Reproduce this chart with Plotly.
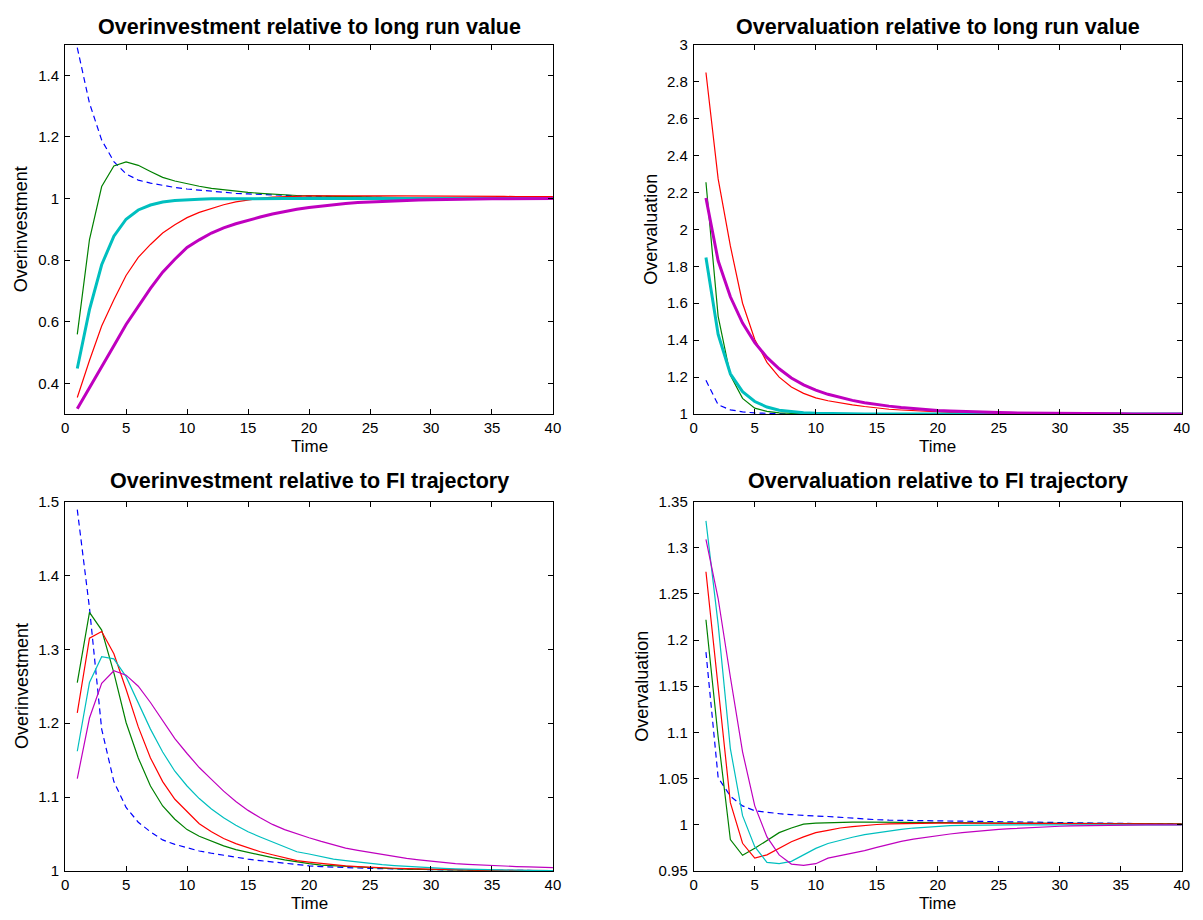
import plotly.graph_objects as go

W, H = 1203, 920
time = list(range(1, 41))

# ---------------- Top-left: Overinvestment relative to long run value
tl_blue = [1.49, 1.31, 1.19, 1.12, 1.08, 1.06, 1.05, 1.042, 1.036, 1.031,
           1.027, 1.023, 1.020, 1.017, 1.015, 1.013, 1.011, 1.010, 1.009, 1.008,
           1.007, 1.006, 1.005, 1.0045, 1.004, 1.0035, 1.003, 1.0027, 1.0024, 1.0021,
           1.0019, 1.0017, 1.0015, 1.0013, 1.0012, 1.001, 1.0009, 1.0008, 1.0007, 1.0006]
tl_green = [0.559, 0.867, 1.039, 1.106, 1.119, 1.108, 1.088, 1.069, 1.057, 1.048,
            1.040, 1.033, 1.028, 1.024, 1.020, 1.017, 1.014, 1.012, 1.010, 1.009,
            1.008, 1.007, 1.006, 1.005, 1.0045, 1.004, 1.0035, 1.003, 1.0027, 1.0024,
            1.002, 1.0018, 1.0016, 1.0014, 1.0012, 1.001, 1.0009, 1.0008, 1.0007, 1.0006]
tl_red = [0.354, 0.474, 0.586, 0.671, 0.750, 0.809, 0.851, 0.888, 0.915, 0.938,
          0.955, 0.968, 0.980, 0.989, 0.996, 1.001, 1.005, 1.007, 1.0085, 1.009,
          1.009, 1.0095, 1.0095, 1.0095, 1.0095, 1.009, 1.009, 1.009, 1.0085, 1.0085,
          1.008, 1.008, 1.0075, 1.0075, 1.007, 1.007, 1.0065, 1.0065, 1.006, 1.006]
tl_cyan = [0.448, 0.639, 0.785, 0.878, 0.933, 0.963, 0.979, 0.989, 0.994, 0.997,
           0.998, 0.999, 0.9995, 1.0, 1.0, 1.0, 1.0, 1.0, 1.0, 1.0,
           1.0, 1.0, 1.0, 1.0, 1.0, 1.0, 1.0, 1.0, 1.0, 1.0,
           1.0, 1.0, 1.0, 1.0, 1.0, 1.0, 1.0, 1.0, 1.0, 1.0]
tl_magenta = [0.317, 0.384, 0.453, 0.522, 0.591, 0.650, 0.708, 0.761, 0.803, 0.841,
              0.866, 0.888, 0.905, 0.918, 0.930, 0.940, 0.950, 0.958, 0.965, 0.971,
              0.976, 0.980, 0.984, 0.987, 0.989, 0.991, 0.993, 0.994, 0.995, 0.996,
              0.997, 0.9975, 0.998, 0.9985, 0.999, 0.9992, 0.9994, 0.9996, 0.9998, 1.0]

# ---------------- Top-right: Overvaluation relative to long run value
tr_blue = [1.183, 1.05, 1.023, 1.012, 1.006, 1.003, 1.0015, 1.001, 1.0, 1.0,
           1.0, 1.0, 1.0, 1.0, 1.0, 1.0, 1.0, 1.0, 1.0, 1.0,
           1.0, 1.0, 1.0, 1.0, 1.0, 1.0, 1.0, 1.0, 1.0, 1.0,
           1.0, 1.0, 1.0, 1.0, 1.0, 1.0, 1.0, 1.0, 1.0, 1.0]
tr_green = [2.255, 1.529, 1.210, 1.085, 1.032, 1.015, 1.006, 1.003, 1.001, 1.0,
            1.0, 1.0, 1.0, 1.0, 1.0, 1.0, 1.0, 1.0, 1.0, 1.0,
            1.0, 1.0, 1.0, 1.0, 1.0, 1.0, 1.0, 1.0, 1.0, 1.0,
            1.0, 1.0, 1.0, 1.0, 1.0, 1.0, 1.0, 1.0, 1.0, 1.0]
tr_red = [2.849, 2.273, 1.910, 1.600, 1.404, 1.280, 1.200, 1.147, 1.112, 1.088,
          1.072, 1.060, 1.050, 1.041, 1.033, 1.026, 1.022, 1.018, 1.014, 1.011,
          1.009, 1.007, 1.006, 1.005, 1.004, 1.0025, 1.002, 1.0016, 1.0013, 1.001,
          1.0008, 1.0006, 1.0005, 1.0004, 1.0003, 1.0002, 1.0002, 1.0001, 1.0001, 1.0]
tr_cyan = [1.848, 1.431, 1.218, 1.121, 1.068, 1.038, 1.021, 1.012, 1.007, 1.004,
           1.002, 1.001, 1.0, 1.0, 1.0, 1.0, 1.0, 1.0, 1.0, 1.0,
           1.0, 1.0, 1.0, 1.0, 1.0, 1.0, 1.0, 1.0, 1.0, 1.0,
           1.0, 1.0, 1.0, 1.0, 1.0, 1.0, 1.0, 1.0, 1.0, 1.0]
tr_magenta = [2.170, 1.830, 1.635, 1.493, 1.387, 1.307, 1.245, 1.195, 1.158, 1.130,
              1.107, 1.089, 1.074, 1.061, 1.051, 1.043, 1.036, 1.030, 1.025, 1.020,
              1.017, 1.014, 1.012, 1.010, 1.008, 1.0065, 1.0055, 1.0045, 1.0038, 1.003,
              1.0025, 1.002, 1.0017, 1.0014, 1.0012, 1.001, 1.0008, 1.0007, 1.0006, 1.0005]

# ---------------- Bottom-left: Overinvestment relative to FI trajectory
bl_blue = [1.489, 1.356, 1.192, 1.121, 1.086, 1.066, 1.053, 1.042, 1.036, 1.031,
           1.027, 1.024, 1.021, 1.019, 1.016, 1.014, 1.012, 1.010, 1.008, 1.007,
           1.006, 1.005, 1.0045, 1.004, 1.0035, 1.003, 1.0027, 1.0024, 1.0021, 1.0018,
           1.0016, 1.0014, 1.0012, 1.001, 1.0009, 1.0008, 1.0007, 1.0006, 1.0005, 1.0004]
bl_green = [1.255, 1.350, 1.326, 1.268, 1.201, 1.153, 1.115, 1.088, 1.070, 1.056,
            1.047, 1.040, 1.034, 1.029, 1.025, 1.021, 1.018, 1.015, 1.012, 1.010,
            1.008, 1.007, 1.006, 1.005, 1.004, 1.0035, 1.003, 1.0025, 1.002, 1.0017,
            1.0014, 1.0012, 1.001, 1.0008, 1.0007, 1.0006, 1.0005, 1.0004, 1.0003, 1.0002]
bl_red = [1.214, 1.315, 1.324, 1.294, 1.246, 1.195, 1.153, 1.121, 1.097, 1.080,
          1.064, 1.053, 1.044, 1.037, 1.031, 1.026, 1.022, 1.018, 1.014, 1.012,
          1.010, 1.0085, 1.007, 1.006, 1.005, 1.0043, 1.0037, 1.0032, 1.0027, 1.0023,
          1.002, 1.0017, 1.0014, 1.0012, 1.001, 1.0009, 1.0008, 1.0007, 1.0006, 1.0005]
bl_cyan = [1.162, 1.255, 1.290, 1.287, 1.263, 1.228, 1.192, 1.161, 1.135, 1.115,
           1.098, 1.084, 1.072, 1.062, 1.053, 1.046, 1.039, 1.032, 1.026, 1.023,
           1.019, 1.016, 1.014, 1.012, 1.010, 1.0085, 1.0072, 1.006, 1.005, 1.004,
           1.0034, 1.0028, 1.0023, 1.0019, 1.0016, 1.0013, 1.0011, 1.0009, 1.0007, 1.0006]
bl_magenta = [1.125, 1.207, 1.254, 1.271, 1.265, 1.250, 1.228, 1.203, 1.179, 1.159,
              1.140, 1.124, 1.108, 1.094, 1.082, 1.072, 1.063, 1.056, 1.050, 1.045,
              1.040, 1.035, 1.031, 1.028, 1.025, 1.022, 1.019, 1.017, 1.015, 1.013,
              1.012, 1.010, 1.009, 1.008, 1.007, 1.0065, 1.006, 1.0055, 1.005, 1.0045]

# ---------------- Bottom-right: Overvaluation relative to FI trajectory
br_blue = [1.187, 1.051, 1.031, 1.0205, 1.0152, 1.0135, 1.012, 1.011, 1.010, 1.0095,
           1.009, 1.008, 1.007, 1.006, 1.0055, 1.005, 1.0048, 1.0045, 1.0042, 1.004,
           1.0037, 1.0034, 1.0032, 1.003, 1.0028, 1.0026, 1.0024, 1.0022, 1.002, 1.0019,
           1.0018, 1.0017, 1.0016, 1.0015, 1.0014, 1.0013, 1.0012, 1.0011, 1.001, 1.001]
br_green = [1.222, 1.095, 0.984, 0.967, 0.9745, 0.983, 0.9915, 0.9965, 1.0007, 1.0018,
            1.0024, 1.0028, 1.0028, 1.0028, 1.0027, 1.0026, 1.0025, 1.0024, 1.0023, 1.0022,
            1.0021, 1.002, 1.002, 1.0019, 1.0018, 1.0017, 1.0016, 1.0016, 1.0015, 1.0015,
            1.0014, 1.0014, 1.0013, 1.0013, 1.0012, 1.0012, 1.0011, 1.0011, 1.001, 1.001]
br_red = [1.274, 1.146, 1.024, 0.980, 0.964, 0.9674, 0.9745, 0.9816, 0.9869, 0.9915,
          0.994, 0.9965, 0.998, 0.9993, 1.0003, 1.0009, 1.0013, 1.0016, 1.0017, 1.0017,
          1.0017, 1.0016, 1.0016, 1.0015, 1.0015, 1.0014, 1.0014, 1.0013, 1.0013, 1.0012,
          1.0012, 1.0011, 1.0011, 1.001, 1.001, 1.0009, 1.0009, 1.0008, 1.0008, 1.0008]
br_cyan = [1.329, 1.217, 1.0825, 1.0099, 0.9763, 0.9593, 0.9579, 0.9604, 0.9674, 0.9745,
           0.9798, 0.9833, 0.9865, 0.9894, 0.9915, 0.993, 0.995, 0.9965, 0.9975, 0.9986,
           0.999, 0.9993, 0.9996, 0.9998, 1.0, 1.0, 1.0, 1.0, 1.0, 1.0,
           1.0, 1.0, 1.0, 1.0, 1.0, 1.0, 1.0, 1.0, 1.0, 1.0]
br_magenta = [1.309, 1.245, 1.160, 1.079, 1.0205, 0.9869, 0.9674, 0.9575, 0.9561, 0.9579,
              0.9639, 0.9665, 0.969, 0.972, 0.9755, 0.979, 0.982, 0.9845, 0.9865, 0.9885,
              0.990, 0.9915, 0.9928, 0.994, 0.995, 0.9958, 0.9966, 0.9973, 0.9979, 0.9984,
              0.9988, 0.9991, 0.9994, 0.9996, 0.9998, 1.0, 1.0, 1.0, 1.0, 1.0]

titles = ["Overinvestment relative to long run value",
          "Overvaluation relative to long run value",
          "Overinvestment relative to FI trajectory",
          "Overvaluation relative to FI trajectory"]
ylabels = ["Overinvestment", "Overvaluation", "Overinvestment", "Overvaluation"]
xlabel = "Time"

x_ticks = [0, 5, 10, 15, 20, 25, 30, 35, 40]
tl_yticks = [0.4, 0.6, 0.8, 1.0, 1.2, 1.4]
tl_ytext = ["0.4", "0.6", "0.8", "1", "1.2", "1.4"]
tr_yticks = [1.0, 1.2, 1.4, 1.6, 1.8, 2.0, 2.2, 2.4, 2.6, 2.8, 3.0]
tr_ytext = ["1", "1.2", "1.4", "1.6", "1.8", "2", "2.2", "2.4", "2.6", "2.8", "3"]
bl_yticks = [1.0, 1.1, 1.2, 1.3, 1.4, 1.5]
bl_ytext = ["1", "1.1", "1.2", "1.3", "1.4", "1.5"]
br_yticks = [0.95, 1.0, 1.05, 1.1, 1.15, 1.2, 1.25, 1.3, 1.35]
br_ytext = ["0.95", "1", "1.05", "1.1", "1.15", "1.2", "1.25", "1.3", "1.35"]

COL = {"b": "#0000FF", "g": "#008000", "r": "#FF0000", "c": "#00BFBF", "m": "#BF00BF"}


def px_x(p):
    return p / W


def px_y(p):
    return 1 - p / H


xdom_l = [px_x(61.7), px_x(554.5)]
xdom_r = [px_x(696.7), px_x(1189.7)]
ydom_t = [px_y(412.7), px_y(36.3)]
ydom_b = [px_y(878.2), px_y(501.8)]

panels = [
    dict(xa="x", ya="y", xd=xdom_l, yd=ydom_t, rng=[0.3, 1.5], tv=tl_yticks, tt=tl_ytext,
         data=[tl_blue, tl_green, tl_red, tl_cyan, tl_magenta], thick=True,
         title_y=18.5, time_y=446, ylab_x=18),
    dict(xa="x2", ya="y2", xd=xdom_r, yd=ydom_t, rng=[1.0, 3.0], tv=tr_yticks, tt=tr_ytext,
         data=[tr_blue, tr_green, tr_red, tr_cyan, tr_magenta], thick=True,
         title_y=18.5, time_y=446, ylab_x=654),
    dict(xa="x3", ya="y3", xd=xdom_l, yd=ydom_b, rng=[1.0, 1.5], tv=bl_yticks, tt=bl_ytext,
         data=[bl_blue, bl_green, bl_red, bl_cyan, bl_magenta], thick=False,
         title_y=481, time_y=911, ylab_x=18),
    dict(xa="x4", ya="y4", xd=xdom_r, yd=ydom_b, rng=[0.95, 1.35], tv=br_yticks, tt=br_ytext,
         data=[br_blue, br_green, br_red, br_cyan, br_magenta], thick=False,
         title_y=481, time_y=911, ylab_x=645),
]

FONT = "Liberation Sans, Arial, Helvetica, sans-serif"
fig = go.Figure()
layout = dict(width=W, height=H, margin=dict(l=0, r=0, t=0, b=0),
              paper_bgcolor="white", plot_bgcolor="white", showlegend=False,
              font=dict(family=FONT, size=15, color="black"))
annotations = []

for i, p in enumerate(panels):
    keys = ["b", "g", "r", "c", "m"]
    for k, ys in zip(keys, p["data"]):
        width = 1.2
        dash = "solid"
        if k == "b":
            dash = "6px,4px"
        if p["thick"] and k in ("c", "m"):
            width = 3
        fig.add_trace(go.Scatter(x=time, y=ys, mode="lines", xaxis=p["xa"], yaxis=p["ya"],
                                 line=dict(color=COL[k], width=width, dash=dash),
                                 hoverinfo="skip"))
    sx = "xaxis" if i == 0 else f"xaxis{i+1}"
    sy = "yaxis" if i == 0 else f"yaxis{i+1}"
    common = dict(showline=True, linecolor="black", linewidth=1, mirror="ticks",
                  ticks="inside", ticklen=5, tickwidth=1, tickcolor="black",
                  showgrid=False, zeroline=False, tickfont=dict(size=15, family=FONT))
    layout[sx] = dict(domain=p["xd"], range=[0, 40], tickvals=x_ticks,
                      anchor=p["ya"], ticklabelstandoff=0, **common)
    layout[sy] = dict(domain=p["yd"], range=p["rng"], tickvals=p["tv"], ticktext=p["tt"],
                      anchor=p["xa"], ticklabelstandoff=2, **common)
    xc = (p["xd"][0] + p["xd"][1]) / 2
    annotations.append(dict(text="<b>" + titles[i] + "</b>", x=xc, y=px_y(p["title_y"]),
                            xref="paper", yref="paper", xanchor="center", yanchor="middle",
                            showarrow=False, font=dict(size=21.5, family=FONT)))
    annotations.append(dict(text=xlabel, x=xc, y=px_y(p["time_y"]),
                            xref="paper", yref="paper", xanchor="center", yanchor="middle",
                            showarrow=False, font=dict(size=17, family=FONT)))
    annotations.append(dict(text=ylabels[i], x=px_x(p["ylab_x"]), y=(p["yd"][0] + p["yd"][1]) / 2,
                            xref="paper", yref="paper", xanchor="center", yanchor="middle",
                            textangle=-90, showarrow=False, font=dict(size=18, family=FONT)))

layout["annotations"] = annotations
fig.update_layout(**layout)
fig.write_html("out.html")
